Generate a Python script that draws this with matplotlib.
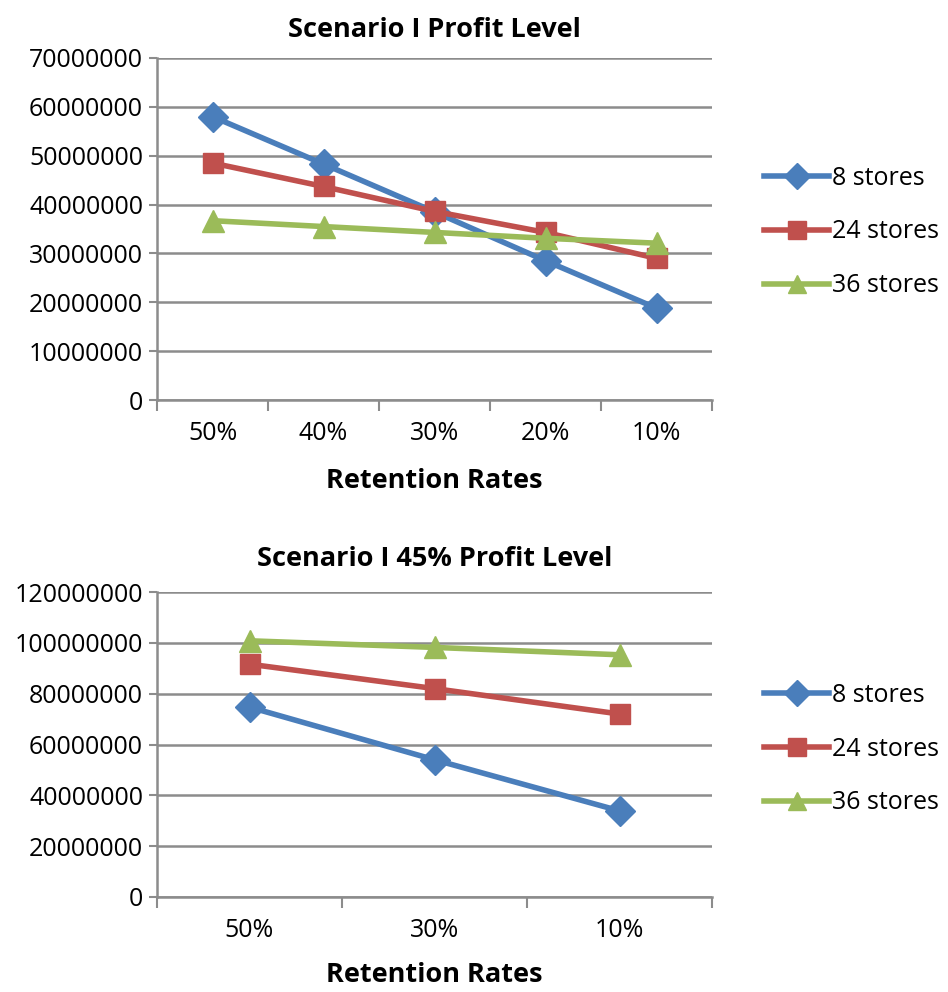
import matplotlib
matplotlib.use("Agg")
import matplotlib.pyplot as plt
import numpy as np

plt.rcParams['font.family'] = ['Open Sans', 'DejaVu Sans']

# Top chart data
top_categories = ["50%", "40%", "30%", "20%", "10%"]
top_8 = [58000000, 48300000, 38500000, 28500000, 18800000]
top_24 = [48500000, 43700000, 38600000, 34300000, 29000000]
top_36 = [36700000, 35500000, 34300000, 33100000, 32100000]
top_yticks = [0, 10000000, 20000000, 30000000, 40000000, 50000000, 60000000, 70000000]

# Bottom chart data
bot_categories = ["50%", "30%", "10%"]
bot_8 = [74700000, 54000000, 33900000]
bot_24 = [91600000, 82000000, 72000000]
bot_36 = [100800000, 98200000, 95300000]
bot_yticks = [0, 20000000, 40000000, 60000000, 80000000, 100000000, 120000000]

series_names = ["8 stores", "24 stores", "36 stores"]
colors = ["#4A7EBB", "#C0504D", "#9BBB59"]
markers = ["D", "s", "^"]
msizes = [15, 14.5, 15.5]

W, H = 948, 992
fig = plt.figure(figsize=(W / 100, H / 100), dpi=100)

grid_c = "#8C8C8C"
TICK_FS = 18
LBL_FS = 19.5

def make_ax(rect, cats, data, yticks, title, legend_y, tpad, xpad):
    ax = fig.add_axes(rect)
    x = np.arange(len(cats))
    handles = []
    for vals, c, m, ms, name in zip(data, colors, markers, msizes, series_names):
        h, = ax.plot(x, vals, color=c, lw=4.0, marker=m, markersize=ms,
                     markeredgecolor=c, label=name, zorder=3)
        handles.append(h)
    ax.set_xlim(-0.5, len(cats) - 0.5)
    ax.set_ylim(yticks[0], yticks[-1])
    ax.set_yticks(yticks)
    ax.set_yticklabels([str(v) for v in yticks], fontsize=TICK_FS)
    ax.set_xticks(x)
    ax.set_xticklabels(cats, fontsize=TICK_FS)
    ax.set_xticks(np.arange(len(cats) + 1) - 0.5, minor=True)
    ax.tick_params(axis='x', which='major', length=0, pad=15)
    ax.tick_params(axis='x', which='minor', length=8, width=1.5, color=grid_c)
    ax.tick_params(axis='y', length=6, width=1.5, color=grid_c, pad=4)
    ax.yaxis.grid(True, color=grid_c, lw=1.8, zorder=0)
    ax.set_axisbelow(True)
    for s in ["top", "right"]:
        ax.spines[s].set_visible(False)
    for s in ["left", "bottom"]:
        ax.spines[s].set_color(grid_c)
        ax.spines[s].set_linewidth(1.8)
    ax.set_title(title, fontsize=LBL_FS, fontweight='bold', pad=tpad)
    ax.set_xlabel("Retention Rates", fontsize=LBL_FS, fontweight='bold', labelpad=xpad)
    fig.legend(handles=handles, loc='center left',
               bbox_to_anchor=(754 / W, 1 - legend_y / H), frameon=False,
               fontsize=TICK_FS, handlelength=2.6, labelspacing=1.15,
               handletextpad=0.1, borderaxespad=0, markerscale=0.85)
    return ax

make_ax([157 / W, 1 - 400 / H, 555 / W, 342 / H], top_categories,
        [top_8, top_24, top_36], top_yticks, "Scenario I Profit Level", 232, 15, 16)
make_ax([157 / W, 1 - 897 / H, 555 / W, 305 / H], bot_categories,
        [bot_8, bot_24, bot_36], bot_yticks, "Scenario I 45% Profit Level", 749, 19, 14)

fig.savefig("out.png", dpi=100)
